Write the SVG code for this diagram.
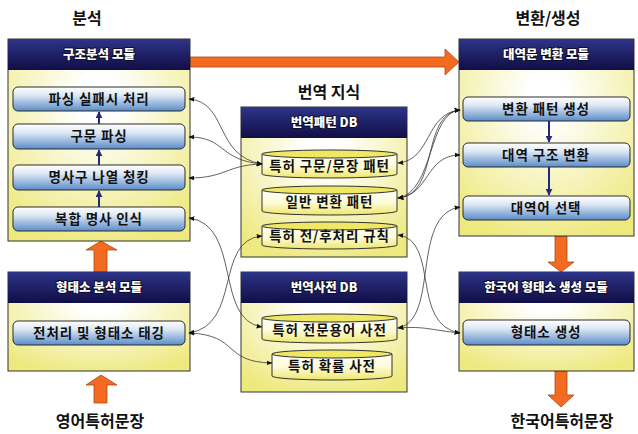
<svg xmlns="http://www.w3.org/2000/svg" width="638" height="434" viewBox="0 0 638 434">
<defs>
<linearGradient id="hdr" x1="0" y1="0" x2="0" y2="1"><stop offset="0" stop-color="#2e3488"/><stop offset="1" stop-color="#100e46"/></linearGradient>
<radialGradient id="body" cx="0.5" cy="0.3" r="0.75"><stop offset="0.15" stop-color="#ffffff"/><stop offset="1" stop-color="#eee97f"/></radialGradient>
<linearGradient id="btn" x1="0" y1="0" x2="0" y2="1"><stop offset="0" stop-color="#ffffff"/><stop offset="0.35" stop-color="#dce7f3"/><stop offset="1" stop-color="#5a8cca"/></linearGradient>
<linearGradient id="cyl" x1="0" y1="0" x2="0" y2="1"><stop offset="0" stop-color="#fffff6"/><stop offset="0.5" stop-color="#fdfbd8"/><stop offset="1" stop-color="#eee76a"/></linearGradient>
<marker id="ah" viewBox="0 0 10 10" refX="9" refY="5" markerWidth="6" markerHeight="6" markerUnits="userSpaceOnUse" orient="auto-start-reverse"><path d="M0,1 L10,5 L0,9 Z" fill="#111"/></marker>
<marker id="bh" viewBox="0 0 10 10" refX="9" refY="5" markerWidth="7" markerHeight="7" markerUnits="userSpaceOnUse" orient="auto"><path d="M0,0 L10,5 L0,10 Z" fill="#23297a"/></marker>
</defs>
<style>
.title{font-family:"Noto Sans CJK KR","Noto Sans",sans-serif;font-weight:bold;font-size:16px;fill:#111;text-anchor:middle}
.hd{font-family:"Noto Sans CJK KR","Noto Sans",sans-serif;font-weight:900;font-size:12.5px;fill:#fff;stroke:#0a0a20;stroke-width:1.6;paint-order:stroke;text-anchor:middle}
.it{font-family:"Noto Sans CJK KR","Noto Sans",sans-serif;font-weight:bold;font-size:13.5px;fill:#111;text-anchor:middle;letter-spacing:0.9px}
.frame{fill:url(#body);stroke:#333;stroke-width:1}
.head{fill:url(#hdr)}
.b{fill:url(#btn);stroke:#2a2a2a;stroke-width:1}
.cy{fill:url(#cyl);stroke:#333;stroke-width:1}
.ct{fill:#efe865;stroke:#333;stroke-width:1}
.oa{fill:#f26b21;stroke:#a84a16;stroke-width:0.8}
.con{fill:none;stroke:#3a3a3a;stroke-width:0.8;marker-start:url(#ah);marker-end:url(#ah)}
.bl{stroke:#23297a;stroke-width:2;marker-end:url(#bh)}
</style>
<rect width="638" height="434" fill="#fff"/>

<text class="title" x="87" y="24">분석</text>
<text class="title" x="329" y="98">번역 지식</text>
<text class="title" x="548" y="24">변환/생성</text>
<text class="title" x="100" y="427">영어특허문장</text>
<text class="title" x="562" y="427">한국어특허문장</text>

<g id="arrows-big">
<polygon class="oa" points="190,57 445,57 445,49 459,62 445,75 445,67 190,67"/>
<polygon class="oa" points="101,241 117,250 107,250 107,272 94,272 94,250 86,250"/>
<polygon class="oa" points="101,375 117,385 107,385 107,403 94,403 94,385 86,385"/>
<polygon class="oa" points="555,236 567,236 567,262 574,262 561,272 548,262 555,262"/>
<polygon class="oa" points="555,371 567,371 567,395 574,395 561,407 548,395 555,395"/>
</g>

<g id="struct-module">
<rect class="frame" x="8" y="39" width="182" height="202"/>
<rect class="head" x="8" y="39" width="182" height="31"/>
<text class="hd" x="99" y="59">구조분석 모듈</text>
</g>
<g id="n-parsefail"><rect class="b" x="13" y="87" width="172" height="24" rx="5"/><text class="it" x="99" y="104">파싱 실패시 처리</text></g>
<g id="n-parse"><rect class="b" x="13" y="124" width="172" height="25" rx="5"/><text class="it" x="99" y="141">구문 파싱</text></g>
<g id="n-chunk"><rect class="b" x="13" y="165" width="172" height="25" rx="5"/><text class="it" x="99" y="182">명사구 나열 청킹</text></g>
<g id="n-compound"><rect class="b" x="13" y="207" width="172" height="24" rx="5"/><text class="it" x="99" y="224">복합 명사 인식</text></g>

<g id="morph-module">
<rect class="frame" x="8" y="272" width="182" height="99"/>
<rect class="head" x="8" y="272" width="182" height="31"/>
<text class="hd" x="99" y="292">형태소 분석 모듈</text>
</g>
<g id="n-pretag"><rect class="b" x="13" y="321" width="172" height="24" rx="5"/><text class="it" x="99" y="338">전처리 및 형태소 태깅</text></g>

<g id="pattern-db">
<rect class="frame" x="241" y="107" width="166" height="150"/>
<rect class="head" x="241" y="107" width="166" height="31"/>
<text class="hd" x="324" y="127">번역패턴 DB</text>
</g>
<g id="c-patent-pattern"><path class="cy" d="M262,154 L262,174 A67.5,4 0 0 0 397,174 L397,154"/><ellipse class="ct" cx="329.5" cy="154" rx="67.5" ry="4"/><text class="it" x="329.5" y="171">특허 구문/문장 패턴</text></g>
<g id="c-general-pattern"><path class="cy" d="M262,190 L262,211 A67.5,4 0 0 0 397,211 L397,190"/><ellipse class="ct" cx="329.5" cy="190" rx="67.5" ry="4"/><text class="it" x="329.5" y="207">일반 변환 패턴</text></g>
<g id="c-rules"><path class="cy" d="M262,226 L262,245 A67.5,4 0 0 0 397,245 L397,226"/><ellipse class="ct" cx="329.5" cy="226" rx="67.5" ry="4"/><text class="it" x="329.5" y="241">특허 전/후처리 규칙</text></g>

<g id="dict-db">
<rect class="frame" x="241" y="272" width="166" height="120"/>
<rect class="head" x="241" y="272" width="166" height="31"/>
<text class="hd" x="324" y="292">번역사전 DB</text>
</g>
<g id="c-term"><path class="cy" d="M262,318 L262,339 A67.5,4 0 0 0 397,339 L397,318"/><ellipse class="ct" cx="329.5" cy="318" rx="67.5" ry="4"/><text class="it" x="329.5" y="335">특허 전문용어 사전</text></g>
<g id="c-prob"><path class="cy" d="M272,354 L272,376 A60,4 0 0 0 392,376 L392,354"/><ellipse class="ct" cx="332" cy="354" rx="60" ry="4"/><text class="it" x="332" y="371">특허 확률 사전</text></g>

<g id="transfer-module">
<rect class="frame" x="459" y="39" width="175" height="197"/>
<rect class="head" x="459" y="39" width="175" height="31"/>
<text class="hd" x="546" y="59">대역문 변환 모듈</text>
</g>
<g id="n-genpattern"><rect class="b" x="463" y="97" width="167" height="24" rx="5"/><text class="it" x="546" y="114">변환 패턴 생성</text></g>
<g id="n-struct"><rect class="b" x="463" y="143" width="167" height="24" rx="5"/><text class="it" x="546" y="160">대역 구조 변환</text></g>
<g id="n-select"><rect class="b" x="463" y="196" width="167" height="24" rx="5"/><text class="it" x="546" y="213">대역어 선택</text></g>

<g id="gen-module">
<rect class="frame" x="459" y="272" width="175" height="99"/>
<rect class="head" x="459" y="272" width="175" height="31"/>
<text class="hd" x="546" y="292">한국어 형태소 생성 모듈</text>
</g>
<g id="n-morphgen"><rect class="b" x="463" y="320" width="167" height="25" rx="5"/><text class="it" x="546" y="337">형태소 생성</text></g>

<g id="connectors">
<line class="bl" x1="99" y1="124" x2="99" y2="112"/>
<line class="bl" x1="99" y1="165" x2="99" y2="150"/>
<line class="bl" x1="99" y1="207" x2="99" y2="191"/>
<line class="bl" x1="549" y1="121" x2="549" y2="142"/>
<line class="bl" x1="549" y1="167" x2="549" y2="195"/>

<path class="con" d="M189,99 C228,102 214,156 262,164"/>
<path class="con" d="M189,137 C226,137 218,160 262,164"/>
<path class="con" d="M189,178 C226,178 226,165 262,164"/>
<path class="con" d="M189,218 C242,225 214,320 262,327"/>
<path class="con" d="M189,333 C242,325 214,240 262,236"/>
<path class="con" d="M189,333 C240,335 222,362 272,363"/>

<path class="con" d="M460,110 C425,113 432,160 398,163"/>
<path class="con" d="M460,110 C420,114 440,195 398,198"/>
<path class="con" d="M460,110 C428,112 434,192 398,198"/>
<path class="con" d="M460,155 C425,155 430,195 398,198"/>
<path class="con" d="M460,207 C410,215 440,320 398,328"/>
<path class="con" d="M460,333 C410,325 440,240 398,235"/>
<path class="con" d="M460,333 C430,330 425,326 398,328"/>
</g>
</svg>
